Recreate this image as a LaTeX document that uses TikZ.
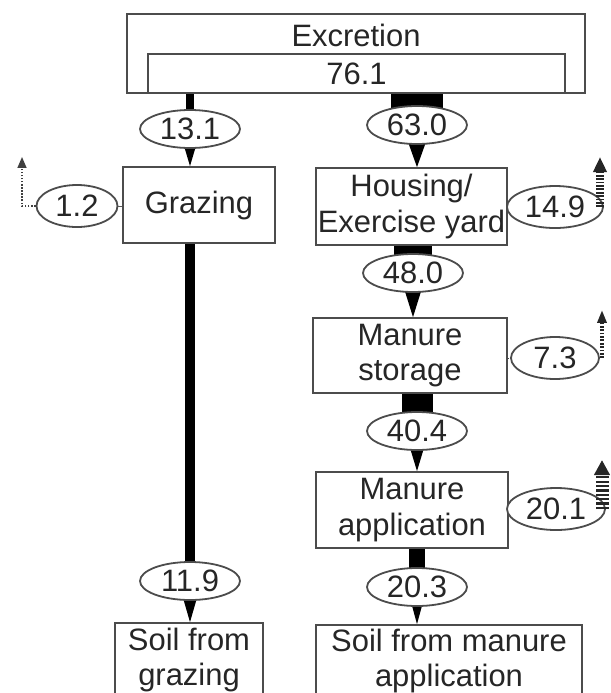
\documentclass[tikz,border=0pt]{standalone}
\usepackage{fontspec}
\setmainfont{Liberation Sans}
\usetikzlibrary{calc,arrows.meta,backgrounds,shapes.geometric}

\newlength\px
\setlength\px{0.025cm}

\begin{document}
\begin{tikzpicture}[
  x=0.025cm, y=-0.025cm,
  every node/.style={font=\fontsize{22}{25}\selectfont, text=black!85},
  box/.style={draw=black!70, line width=1.8\px, fill=white, align=center, inner sep=0pt},
  val/.style={draw=black!70, line width=1.8\px, fill=white, ellipse, inner sep=0pt,
    minimum width=100\px, minimum height=38\px},
  loss/.style={draw=black!70, line width=1.8\px, fill=white, ellipse, inner sep=0pt,
    minimum height=42\px},
  flowbar/.style={line width=#1\px, black},
  stripe/.style={line width=#1\px, black!85, dash pattern=on 1.2pt off 1.2pt},
]

\useasboundingbox (0,0) rectangle (611,693);

% excretion
\node [box, minimum width=458\px, minimum height=79\px] (excr) at (356,53.5) {};
\node (excrtxt) at (356,35) {Excretion};
\node [box, minimum width=417\px, minimum height=39\px] (tot) at (356.5,73.5) {76.1};

% grazing side
\node [val] (e131) at (190,129) {13.1};
\node [box, minimum width=152\px, minimum height=76\px] (graz) at (199,205) {Grazing};
\node [val] (e119) at (190,581) {11.9};
\node [box, minimum width=148\px, minimum height=74\px] (soilg) at (189,660) {Soil from\\grazing};

% housing side
\node [val] (e630) at (417,125) {63.0};
\node [box, minimum width=191\px, minimum height=77\px] (hous) at (411.5,206.5) {Housing/\\Exercise yard};
\node [val] (e480) at (413,273) {48.0};
\node [box, minimum width=194\px, minimum height=75\px] (stor) at (410,355.5) {Manure\\storage};
\node [val] (e404) at (417,431) {40.4};
\node [box, minimum width=192\px, minimum height=76\px] (appl) at (412,510) {Manure\\application};
\node [val] (e203) at (417,587) {20.3};
\node [box, minimum width=266\px, minimum height=72\px] (soilm) at (449,661) {Soil from manure\\application};

% losses
\node [loss, minimum width=81\px] (e12) at (77,206) {1.2};
\node [loss, minimum width=96\px] (e149) at (555,207) {14.9};
\node [loss, minimum width=88\px] (e73) at (555,358) {7.3};
\node [loss, minimum width=98\px] (e201) at (556,509) {20.1};

\coordinate (up12) at (22,157);
\coordinate (up149) at (600,157);
\coordinate (up73) at (602,310);
\coordinate (up201) at (602,460);

\begin{pgfonlayer}{background}
\draw [flowbar=8] (excr.south -| e131) -- (e131.center);
\draw [flowbar=52] (excr.south -| e630) -- (e630.center);
\draw [flowbar=10] (graz.south -| e119) -- (e119.center);
\draw [flowbar=38] (hous.south -| e480) -- (e480.center);
\draw [flowbar=31] (stor.south -| e404) -- (e404.center);
\draw [flowbar=16] (appl.south -| e203) -- (e203.center);

\fill ($(e131.south)+(-6,-3)$) -- ($(e131.south)+(6,-3)$) -- (graz.north -| e131) -- cycle;
\fill ($(e630.south)+(-9,-3)$) -- ($(e630.south)+(9,-3)$) -- (hous.north -| e630) -- cycle;
\fill ($(e480.south)+(-8.5,-3)$) -- ($(e480.south)+(8.5,-3)$) -- (stor.north -| e480) -- cycle;
\fill ($(e404.south)+(-7,-3)$) -- ($(e404.south)+(7,-3)$) -- (appl.north -| e404) -- cycle;
\fill ($(e203.south)+(-5.5,-3)$) -- ($(e203.south)+(5.5,-3)$) -- (soilm.north -| e203) -- cycle;
\fill ($(e119.south)+(-7,-3)$) -- ($(e119.south)+(7,-3)$) -- (soilg.north -| e119) -- cycle;
\end{pgfonlayer}

% emissions
\draw [black!65, line width=1\px] (e12.east) -- (e12.east -| graz.west);
\draw [black!75, line width=1.5\px, dash pattern=on 1.1pt off 1.1pt,
  -{Triangle[width=6.4pt,length=7.8pt]}] (e12.west) -| (up12);

\draw [stripe=8, -{Triangle[width=9.2pt,length=10.7pt]}] (up149 |- e149.east) -- (up149);

\draw [black!75, line width=1\px, dash pattern=on 1.1pt off 1.1pt] (e73.west -| stor.east) -- (e73.west);
\draw [stripe=4, -{Triangle[width=6.4pt,length=9.2pt]}] (up73 |- e73.east) -- (up73);

\draw [stripe=13, dash pattern=on 1.6pt off 1.5pt, -{Triangle[width=10.7pt,length=10.7pt]}] (up201 |- e201.east) -- (up201);

\end{tikzpicture}
\end{document}
